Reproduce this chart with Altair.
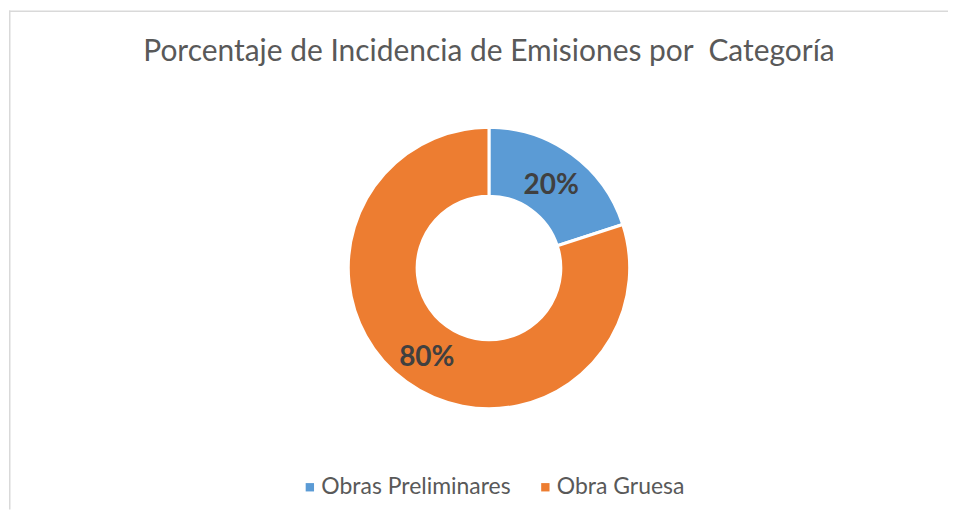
import altair as alt
import pandas as pd

categories = ["Obras Preliminares", "Obra Gruesa"]
values = [20, 80]
labels = ["20%", "80%"]
order = [1, 2]
colors = ["#5B9BD5", "#ED7D31"]

title_text = "Porcentaje de Incidencia de Emisiones por \u00a0Categoría"

df = pd.DataFrame({"cat": categories, "val": values, "lab": labels, "ord": order})

W, H = 941, 502
CX, CY = 481, 260
FONT = "Lato"

base = alt.Chart(df).encode(
    theta=alt.Theta("val:Q", stack=True),
    order=alt.Order("ord:Q"),
)

arcs = base.mark_arc(outerRadius=141, innerRadius=72, stroke="white", strokeWidth=3).encode(
    x=alt.value(CX),
    y=alt.value(CY),
    color=alt.Color(
        "cat:N",
        scale=alt.Scale(domain=categories, range=colors),
        sort=categories,
        legend=alt.Legend(
            title=None,
            orient="none",
            legendX=290,
            legendY=468,
            padding=0,
            direction="horizontal",
            symbolType="square",
            symbolSize=70,
            symbolStrokeWidth=0,
            labelFont=FONT,
            labelFontSize=23,
            labelColor="#595959",
            labelOffset=0,
            columnPadding=23,
            labelLimit=400,
        ),
    ),
)

texts = base.mark_text(
    radius=106, dy=4, font=FONT, fontSize=28, fontWeight="bold", color="#404040"
).encode(
    x=alt.value(CX),
    y=alt.value(CY),
    text="lab:N",
)

title = alt.Chart(pd.DataFrame({"t": [title_text]})).mark_text(
    font=FONT, fontSize=30, color="#595959", align="center", baseline="alphabetic"
).encode(x=alt.value(481), y=alt.value(53), text="t:N")

border_v = alt.Chart(pd.DataFrame({"a": [0]})).mark_rule(color="#d9d9d9", strokeWidth=1.5).encode(
    x=alt.value(0.75), y=alt.value(2), y2=alt.value(H)
)
border_h = alt.Chart(pd.DataFrame({"a": [0]})).mark_rule(color="#d9d9d9", strokeWidth=1.5).encode(
    y=alt.value(2.75), x=alt.value(0), x2=alt.value(W)
)

chart = alt.layer(border_v, border_h, title, arcs, texts).properties(
    width=W, height=H, padding=0
).configure_view(stroke=None)

chart.save("out.html", embed_options={"renderer": "svg", "actions": False})
